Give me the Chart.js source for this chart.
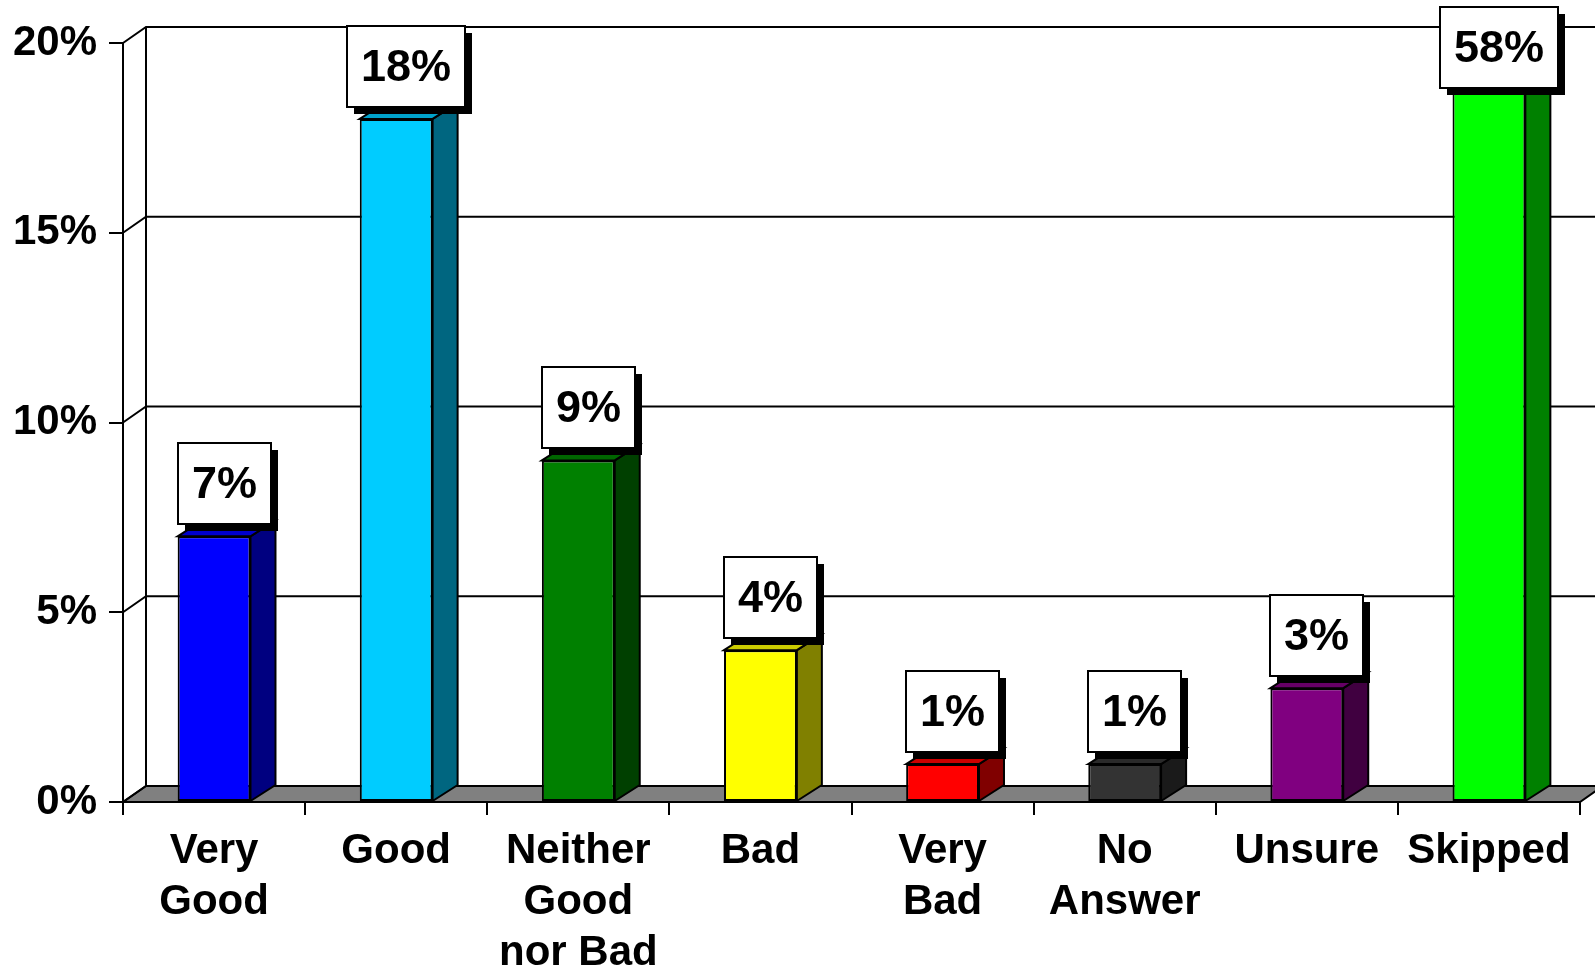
<!DOCTYPE html>
<html>
<head>
<meta charset="utf-8">
<script src="https://cdn.jsdelivr.net/npm/chart.js@4/dist/chart.umd.min.js"></script>
<style>
  html, body { margin: 0; padding: 0; background: #fff; }
  #wrap { width: 1595px; height: 969px; position: relative; }
</style>
</head>
<body>
<div id="wrap"><canvas id="c"></canvas></div>
<script>
// ---- data ----
const categories = [["Very", "Good"], ["Good"], ["Neither", "Good", "nor Bad"], ["Bad"], ["Very", "Bad"], ["No", "Answer"], ["Unsure"], ["Skipped"]];
const values = [7, 18, 9, 4, 1, 1, 3, 58];
const valueLabels = ["7%", "18%", "9%", "4%", "1%", "1%", "3%", "58%"];
const yTicks = [0, 5, 10, 15, 20];

// ---- styles ----
const frontColors = ['#0000FF', '#00CCFF', '#008000', '#FFFF00', '#FF0000', '#333333', '#800080', '#00FF00'];
const sideColors  = ['#000080', '#006680', '#004000', '#808000', '#800000', '#1A1A1A', '#400040', '#008000'];
const topColors   = ['#0000CC', '#00A3CC', '#006600', '#CCCC00', '#CC0000', '#2A2A2A', '#660066', '#00CC00'];
const FONT_FAMILY = "'Liberation Sans', Arial, Helvetica, sans-serif";
const WALL_DX = 23, WALL_DY = 16;
const BAR_DX = 25, BAR_DY = 16;

const threeD = {
  id: 'threeD',
  beforeDatasetsDraw(chart) {
    const { ctx, chartArea: a, scales: { y } } = chart;
    ctx.save();
    ctx.lineWidth = 2;
    ctx.strokeStyle = '#000';
    ctx.lineJoin = 'miter';
    // floor
    ctx.beginPath();
    ctx.moveTo(a.left, a.bottom);
    ctx.lineTo(a.right, a.bottom);
    ctx.lineTo(a.right + WALL_DX, a.bottom - WALL_DY);
    ctx.lineTo(a.left + WALL_DX, a.bottom - WALL_DY);
    ctx.closePath();
    ctx.fillStyle = '#808080';
    ctx.fill();
    ctx.stroke();
    // back wall left edge
    ctx.beginPath();
    ctx.moveTo(a.left + WALL_DX, y.getPixelForValue(y.max) - WALL_DY);
    ctx.lineTo(a.left + WALL_DX, a.bottom - WALL_DY);
    ctx.stroke();
    // gridlines on back wall + side wall diagonals
    y.ticks.forEach(t => {
      const py = y.getPixelForValue(t.value);
      ctx.beginPath();
      ctx.moveTo(a.left, py);
      ctx.lineTo(a.left + WALL_DX, py - WALL_DY);
      if (t.value > 0) ctx.lineTo(a.right + WALL_DX + 60, py - WALL_DY);
      ctx.stroke();
    });
    // bar side and top faces
    const meta = chart.getDatasetMeta(0);
    meta.data.forEach((el, i) => {
      const p = el.getProps(['x', 'y', 'base', 'width'], true);
      const l = p.x - p.width / 2, r = p.x + p.width / 2;
      const top = Math.max(p.y, a.top);
      const base = p.base;
      ctx.beginPath();
      ctx.moveTo(r, top);
      ctx.lineTo(r + BAR_DX, top - BAR_DY);
      ctx.lineTo(r + BAR_DX, base - BAR_DY);
      ctx.lineTo(r, base);
      ctx.closePath();
      ctx.fillStyle = sideColors[i];
      ctx.fill();
      ctx.stroke();
      ctx.beginPath();
      ctx.moveTo(l, top);
      ctx.lineTo(l + BAR_DX, top - BAR_DY);
      ctx.lineTo(r + BAR_DX, top - BAR_DY);
      ctx.lineTo(r, top);
      ctx.closePath();
      ctx.fillStyle = topColors[i];
      ctx.fill();
      ctx.stroke();
    });
    ctx.restore();
  },
  afterDatasetsDraw(chart) {
    const { ctx, chartArea: a } = chart;
    const meta = chart.getDatasetMeta(0);
    ctx.save();
    ctx.font = 'bold 45px ' + FONT_FAMILY;
    ctx.textAlign = 'center';
    ctx.textBaseline = 'middle';
    meta.data.forEach((el, i) => {
      const p = el.getProps(['x', 'y'], true);
      const txt = valueLabels[i];
      const w = Math.round(ctx.measureText(txt).width + 28);
      const h = 81;
      const cx = p.x + 10;
      const top = Math.max(p.y, a.top);
      let by = top - 12 - h;
      by = Math.max(by, a.top - 36);
      const bx = Math.round(cx - w / 2);
      by = Math.round(by);
      ctx.fillStyle = '#000';
      ctx.fillRect(bx + 7, by + 7, w, h);
      ctx.fillStyle = '#fff';
      ctx.fillRect(bx, by, w, h);
      ctx.lineWidth = 2;
      ctx.strokeStyle = '#000';
      ctx.strokeRect(bx, by, w, h);
      ctx.fillStyle = '#000';
      ctx.fillText(txt, bx + w / 2, by + h / 2 + 2);
    });
    ctx.restore();
  }
};

const tickFont = { family: FONT_FAMILY, size: 42, weight: 'bold', lineHeight: 1.214 };

new Chart(document.getElementById('c'), {
  type: 'bar',
  data: {
    labels: categories,
    datasets: [{
      data: values,
      backgroundColor: frontColors,
      borderColor: '#000',
      borderWidth: 2,
      borderSkipped: false,
      categoryPercentage: 1,
      barPercentage: 0.4,
      clip: { left: false, right: false, top: 0, bottom: false }
    }]
  },
  options: {
    responsive: true,
    maintainAspectRatio: false,
    animation: false,
    events: [],
    layout: { padding: { top: 43, right: 15, left: 0, bottom: 0 } },
    plugins: { legend: { display: false }, tooltip: { enabled: false } },
    scales: {
      x: {
        grid: { display: true, drawOnChartArea: false, drawTicks: true, tickLength: 13, color: '#000', lineWidth: 2, offset: true },
        border: { display: true, color: '#000', width: 2 },
        ticks: { color: '#000', font: tickFont, padding: 11, maxRotation: 0, autoSkip: false },
        afterFit: s => { s.height = 167; }
      },
      y: {
        min: 0, max: 20,
        afterBuildTicks: s => { s.ticks = yTicks.map(v => ({ value: v })); },
        grid: { display: true, drawOnChartArea: false, drawTicks: true, tickLength: 14, color: '#000', lineWidth: 2 },
        border: { display: true, color: '#000', width: 2 },
        ticks: { color: '#000', font: tickFont, padding: 12, callback: v => v + '%' },
        afterFit: s => { s.width = 123; }
      }
    }
  },
  plugins: [threeD]
});
</script>
</body>
</html>
